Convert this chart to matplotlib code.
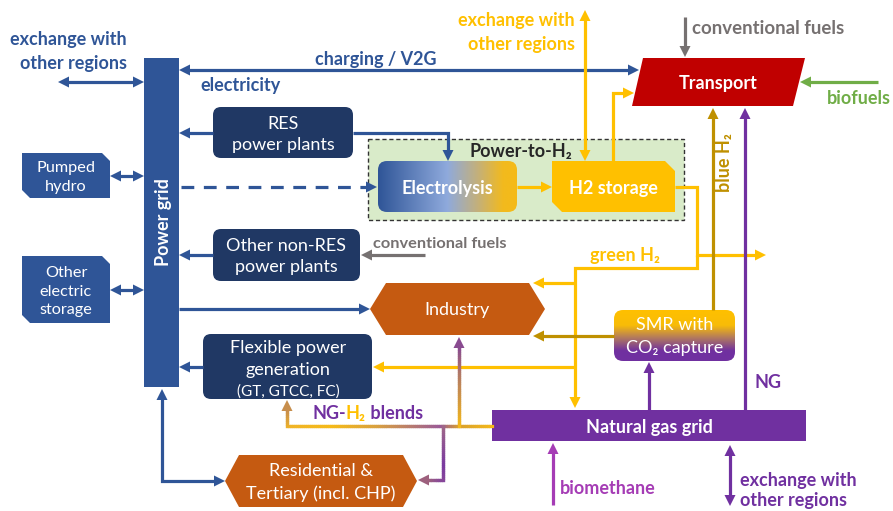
import numpy as np
import matplotlib.pyplot as plt
from matplotlib.patches import Polygon, FancyBboxPatch, Rectangle
from matplotlib.colors import LinearSegmentedColormap, to_rgb
from matplotlib.collections import LineCollection

plt.rcParams['font.family'] = ['Lato', 'DejaVu Sans']

# labels of the diagram
left_exchange = ["exchange with", "other regions"]
h2_exchange = ["exchange with", "other regions"]
ng_exchange = ["exchange with", "other regions"]
storage_labels = ["Pumped\nhydro", "Other\nelectric\nstorage"]
plant_labels = ["RES\npower plants", "Other non-RES\npower plants"]
flex_labels = ["Flexible power", "generation", "(GT, GTCC, FC)"]
demand_labels = ["Transport", "Industry", "Residential &\nTertiary (incl. CHP)"]
h2_labels = ["Electrolysis", "H2 storage", "Power-to-H₂", "SMR with\nCO₂ capture"]
grid_labels = ["Power grid", "Natural gas grid"]
flow_labels = ["charging / V2G", "electricity", "conventional fuels", "biofuels",
               "blue H₂", "green H₂", "NG", "biomethane"]
blend_parts = ["NG-", "H₂", " blends"]

BLUE = '#2F5597'
NAVY = '#203864'
GOLD = '#FFC000'
DKGOLD = '#BF9000'
PURPLE = '#7030A0'
ORANGE = '#C55A11'
RED = '#C00000'
GREY = '#767171'
GREEN = '#70AD47'
MAGENTA = '#A53CB5'
LW = 2.3
FS = 13      # bold flow labels
BS = 13      # box text

W, H = 893, 511
fig = plt.figure(figsize=(W / 100, H / 100), dpi=100)
ax = fig.add_axes([0, 0, 1, 1])
ax.set_xlim(0, W)
ax.set_ylim(H, 0)
ax.axis('off')


def head(tip, prev, color, L=11, hw=5.5, z=5):
    x, y = tip
    dx, dy = x - prev[0], y - prev[1]
    n = np.hypot(dx, dy)
    ux, uy = dx / n, dy / n
    px, py = -uy, ux
    pts = [(x, y), (x - ux * L + px * hw, y - uy * L + py * hw),
           (x - ux * L - px * hw, y - uy * L - py * hw)]
    ax.add_patch(Polygon(pts, closed=True, color=color, lw=0, zorder=z))


def shorten(p, q, d):
    dx, dy = q[0] - p[0], q[1] - p[1]
    n = np.hypot(dx, dy)
    return (q[0] - dx / n * d, q[1] - dy / n * d)


def arrow(pts, color, start=False, end=True, ls='-', lw=LW, z=4):
    pts = list(pts)
    line = list(pts)
    if end:
        line[-1] = shorten(pts[-2], pts[-1], 8)
    if start:
        line[0] = shorten(pts[1], pts[0], 8)
    xs, ys = zip(*line)
    ax.plot(xs, ys, color=color, lw=lw, ls=ls, solid_capstyle='butt',
            solid_joinstyle='miter', zorder=z)
    if end:
        head(pts[-1], pts[-2], color, z=z + 1)
    if start:
        head(pts[0], pts[1], color, z=z + 1)


def grad_line(pts, colors, end=True, z=4):
    pts = [np.array(p, float) for p in pts]
    lengths = [np.linalg.norm(pts[i + 1] - pts[i]) for i in range(len(pts) - 1)]
    cum = np.concatenate([[0], np.cumsum(lengths)])
    total = cum[-1]
    if end:
        pts[-1] = np.array(shorten(pts[-2], pts[-1], 8))
    segs, cols = [], []
    pos = [c[0] for c in colors]
    rgb = np.array([to_rgb(c[1]) for c in colors])
    for i in range(len(pts) - 1):
        a, b = pts[i], pts[i + 1]
        n = max(2, int(np.linalg.norm(b - a) / 2))
        for k in range(n):
            p0 = a + (b - a) * k / n
            p1 = a + (b - a) * (k + 1) / n
            s = (cum[i] + np.linalg.norm(p0 - pts[i])) / total
            c = [np.interp(s, pos, rgb[:, j]) for j in range(3)]
            segs.append([p0, p1])
            cols.append(c)
    ax.add_collection(LineCollection(segs, colors=cols, linewidths=LW,
                                     capstyle='projecting', zorder=z))
    if end:
        d = (pts[-1] - pts[-2]) / np.linalg.norm(pts[-1] - pts[-2])
        head(tuple(pts[-1] + d * 8), tuple(pts[-2]), cols[-1], z=z + 1)


def rbox(x0, y0, x1, y1, color, r=8, z=3):
    p = FancyBboxPatch((x0, y0), x1 - x0, y1 - y0,
                       boxstyle=f"round,pad=0,rounding_size={r}",
                       fc=color, ec='none', zorder=z)
    ax.add_patch(p)
    return p


def chamfer(x0, y0, x1, y1, color, c=8, z=3):
    pts = [(x0, y0), (x1 - c, y0), (x1, y0 + c), (x1, y1), (x0 + c, y1), (x0, y1 - c)]
    p = Polygon(pts, closed=True, fc=color, ec='none', zorder=z)
    ax.add_patch(p)
    return p


def hexa(x0, y0, x1, y1, color, c=16, z=3):
    ym = (y0 + y1) / 2
    pts = [(x0, ym), (x0 + c, y0), (x1 - c, y0), (x1, ym), (x1 - c, y1), (x0 + c, y1)]
    p = Polygon(pts, closed=True, fc=color, ec='none', zorder=z)
    ax.add_patch(p)
    return p


def fill_gradient(patch, x0, y0, x1, y1, cmap, horizontal=True):
    g = np.linspace(0, 1, 256)
    img = g[None, :] if horizontal else g[:, None]
    im = ax.imshow(img, cmap=cmap, extent=(x0, x1, y1, y0), aspect='auto',
                   zorder=patch.get_zorder(), interpolation='bilinear')
    im.set_clip_path(patch)
    patch.set_facecolor('none')


def txt(x, y, s, color='white', size=BS, weight='normal', ha='center', dy=1.5, **kw):
    if kw.get('rotation'):
        dy = 0
    return ax.text(x, y + dy, s, color=color, fontsize=size, fontweight=weight,
                   ha=ha, va='center', zorder=10, **kw)


# ---- Power-to-H2 frame
ax.add_patch(Rectangle((368, 139), 316, 81, fc='#D9EBC9', ec='#333333', lw=1,
                       ls=(0, (3, 2)), zorder=1))
txt(521, 150, h2_labels[2], color='#262626', size=FS, weight='bold')

# ---- power grid
ax.add_patch(Rectangle((144, 58), 35, 329, fc=BLUE, ec='none', zorder=3))
txt(163, 222, grid_labels[0], size=FS, weight='bold', rotation=90)

# ---- storage boxes
chamfer(22, 153, 110, 198, BLUE)
txt(66, 176, storage_labels[0], size=11.7, linespacing=1.45)
chamfer(22, 256, 110, 323, BLUE)
txt(66, 290, storage_labels[1], size=11.7, linespacing=1.4)

# ---- plants
rbox(213, 107, 353, 158, NAVY)
txt(283, 133, plant_labels[0], linespacing=1.45)
rbox(213, 229, 360, 281, NAVY)
txt(286, 255, plant_labels[1], linespacing=1.45)
rbox(203, 334, 372, 399, NAVY)
txt(288, 346, flex_labels[0])
txt(288, 368, flex_labels[1])
txt(288, 390, flex_labels[2], size=11)

# ---- electrolysis & H2 storage
el = rbox(378, 161, 517, 212, BLUE, r=9)
fill_gradient(el, 378, 161, 517, 212,
              LinearSegmentedColormap.from_list('el', [(0, '#2F5597'), (0.5, '#8FAADC'),
                                                       (0.72, '#C4B07A'), (0.9, '#F2BA1E'),
                                                       (1, '#F5BA18')]))
txt(447, 187, h2_labels[0], size=FS, weight='bold')
chamfer(552, 161, 675, 212, GOLD, c=10)
txt(613, 187, h2_labels[1], size=FS, weight='bold')

# ---- transport
ax.add_patch(Polygon([(643, 58), (805, 58), (793, 106), (632, 106)], closed=True,
                     fc=RED, ec='none', zorder=3))
txt(718, 82, demand_labels[0], size=FS, weight='bold')

# ---- industry and residential
hexa(370, 283, 545, 335, ORANGE, c=16)
txt(457, 309, demand_labels[1])
hexa(225, 455, 417, 507, ORANGE, c=14)
txt(321, 481, demand_labels[2], linespacing=1.45)

# ---- SMR
smr = rbox(614, 310, 735, 361, GOLD, r=9)
fill_gradient(smr, 614, 310, 735, 361,
              LinearSegmentedColormap.from_list('smr', [(0, '#FFC000'), (0.3, '#F8BC08'),
                                                        (0.55, '#B07860'), (0.8, '#7030A0'),
                                                        (1, '#7030A0')]), horizontal=False)
txt(675, 323, h2_labels[3].split('\n')[0])
txt(675, 347, h2_labels[3].split('\n')[1])

# ---- natural gas grid
ax.add_patch(Rectangle((492, 410), 314, 31, fc=PURPLE, ec='none', zorder=3))
txt(649, 426, grid_labels[1], size=FS, weight='bold')

# ---- blue electricity flows
arrow([(58, 82), (144, 82)], BLUE, start=True)
arrow([(110, 176), (144, 176)], BLUE, start=True)
arrow([(110, 290), (144, 290)], BLUE, start=True)
arrow([(179, 70), (639, 70)], BLUE, start=True)
arrow([(213, 133), (179, 133)], BLUE)
arrow([(353, 133), (448, 133), (448, 161)], BLUE)
arrow([(181, 187), (377, 187)], BLUE, ls=(0, (4, 3)))
arrow([(213, 255), (179, 255)], BLUE)
arrow([(179, 309), (370, 309)], BLUE)
arrow([(203, 367), (179, 367)], BLUE)
arrow([(162, 389), (162, 481), (225, 481)], BLUE, start=True)

# ---- hydrogen flows
arrow([(517, 187), (552, 187)], GOLD)
arrow([(585, 10), (585, 161)], GOLD, start=True)
arrow([(613, 161), (613, 93), (634, 93)], GOLD)
arrow([(675, 187), (697, 187), (697, 255), (766, 255)], GOLD)
arrow([(697, 255), (697, 268), (575, 268), (575, 408)], GOLD)
arrow([(575, 283), (533, 283)], GOLD)
arrow([(575, 367), (373, 367)], GOLD)
arrow([(614, 336), (533, 336)], DKGOLD)
arrow([(713, 310), (713, 108)], DKGOLD)

# ---- gas flows
arrow([(745, 410), (745, 108)], PURPLE)
arrow([(649, 410), (649, 362)], PURPLE)
arrow([(553, 505), (553, 443)], MAGENTA)
arrow([(730, 445), (730, 506)], PURPLE, start=True)

# ---- NG-H2 blends
grad_line([(492, 426), (287, 426), (287, 400)],
          [(0, '#F5BA18'), (0.15, '#D8A030'), (0.23, '#9A5A98'), (0.5, '#D8A040'),
           (0.7, '#F5BA18'), (0.88, '#F0B428'), (1, '#B07860')])
grad_line([(443, 426), (443, 480), (418, 480)],
          [(0, '#A06888'), (0.5, '#7A3AA0'), (0.75, '#8A4A98'), (1, '#B07860')])
grad_line([(459, 426), (459, 337)],
          [(0, '#F5BA18'), (0.6, '#B07868'), (1, '#7A3AA0')])

# ---- other inputs
arrow([(685, 17), (685, 57)], GREY)
arrow([(878, 82), (800, 82)], GREEN)
arrow([(425, 255), (361, 255)], GREY)

# ---- flow labels
txt(127, 38, left_exchange[0], color=BLUE, size=FS, weight='bold', ha='right')
txt(127, 62, left_exchange[1], color=BLUE, size=FS, weight='bold', ha='right')
txt(376, 58, flow_labels[0], color=BLUE, size=FS, weight='bold')
txt(200, 84, flow_labels[1], color=BLUE, size=FS, weight='bold', ha='left')
txt(575, 19, h2_exchange[0], color=GOLD, size=FS, weight='bold', ha='right')
txt(575, 43, h2_exchange[1], color=GOLD, size=FS, weight='bold', ha='right')
txt(692, 27, flow_labels[2], color=GREY, size=13.4, weight='bold', ha='left')
txt(827, 97, flow_labels[3], color=GREEN, size=FS, weight='bold', ha='left')
txt(373, 243, flow_labels[2], color=GREY, size=11.8, weight='bold', ha='left')
txt(724, 163, flow_labels[4], color=DKGOLD, size=FS, weight='bold', rotation=90)
txt(590, 254, flow_labels[5], color=GOLD, size=FS, weight='bold', ha='left')
txt(755, 381, flow_labels[6], color=PURPLE, size=FS, weight='bold', ha='left')
txt(560, 487, flow_labels[7], color=MAGENTA, size=FS, weight='bold', ha='left')
txt(740, 479, ng_exchange[0], color=PURPLE, size=FS, weight='bold', ha='left')
txt(740, 499, ng_exchange[1], color=PURPLE, size=FS, weight='bold', ha='left')

# NG-H2 blends in three colours
renderer = fig.canvas.get_renderer()
x = 312
for part, col in zip(blend_parts, [PURPLE, GOLD, PURPLE]):
    t = txt(x, 412, part, color=col, size=FS, weight='bold', ha='left')
    x = t.get_window_extent(renderer).x1

fig.savefig('out.png', dpi=100)
